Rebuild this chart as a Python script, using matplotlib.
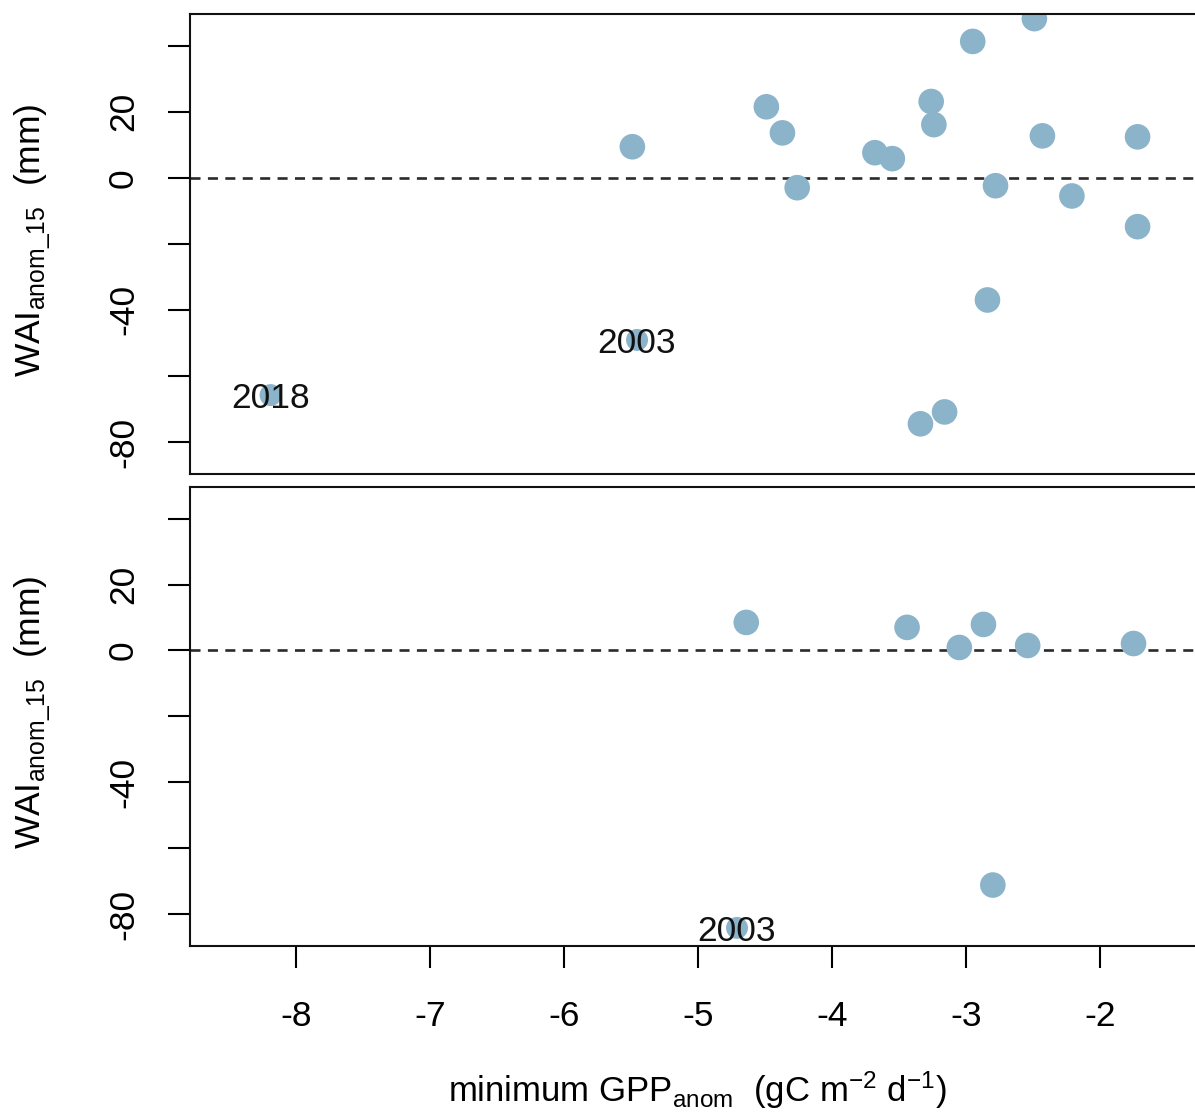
import numpy as np
import matplotlib
matplotlib.use("Agg")
from matplotlib import pyplot as plt

plt.rcParams["font.family"] = ["Liberation Sans", "DejaVu Sans"]
plt.rcParams["mathtext.fontset"] = "custom"
plt.rcParams["mathtext.rm"] = "Liberation Sans"
plt.rcParams["mathtext.it"] = "Liberation Sans"
plt.rcParams["mathtext.default"] = "regular"

# top panel (all sites)
top_x = [-5.49, -4.49, -4.37, -4.26, -3.68, -3.55, -3.26, -3.24, -3.20, -3.34,
         -3.16, -2.95, -2.49, -2.78, -2.84, -2.43, -2.21, -1.72, -1.72]
top_y = [9.4, 21.5, 13.6, -3.0, 7.6, 5.8, 23.1, 16.1, 53.3, -74.5,
         -70.9, 41.3, 48.2, -2.4, -37.0, 12.7, -5.5, 12.4, -14.8]
top_lab_x = [-8.19, -5.455]
top_lab_y = [-65.8, -49.1]
top_lab = ["2018", "2003"]

# bottom panel
bot_x = [-4.64, -3.44, -3.05, -2.87, -2.54, -1.75, -2.80]
bot_y = [8.5, 7.0, 0.9, 7.9, 1.5, 2.1, -71.2]
bot_lab_x = [-4.709]
bot_lab_y = [-84.2]
bot_lab = ["2003"]

yticks = [-80, -60, -40, -20, 0, 20, 40]
yticklabels = ["-80", "", "-40", "", "0", "20", ""]
xticks = [-8, -7, -6, -5, -4, -3, -2]

col = "#8bb3ca"

W, H = 1195, 1115
fig = plt.figure(figsize=(W / 100, H / 100), dpi=100)

left = 190 / W
width = 1010 / W
ax1 = fig.add_axes([left, 1 - 474 / H, width, 460 / H])
ax2 = fig.add_axes([left, 1 - 946 / H, width, 459 / H])


def style(ax, xs, ys, lx, ly, labs, bottom):
    ax.axhline(0, color="#2a2a2a", lw=1.9, dashes=(3.8, 2.8), zorder=1)
    ax.scatter(xs, ys, s=340, color=col, edgecolors="none", zorder=2)
    ax.scatter(lx, ly, s=250, color=col, edgecolors="none", zorder=2)
    for x, y, t in zip(lx, ly, labs):
        ax.text(x, y - 1, t, ha="center", va="center", fontsize=25.5, color="#111111", zorder=3)
    ax.set_xlim(-8.791, -1.254)
    ax.set_ylim(-89.7, 49.6)
    ax.set_yticks(yticks)
    ax.set_yticklabels(yticklabels, rotation=90, va="center")
    ax.tick_params(axis="y", length=16, width=1.5, pad=20, labelsize=25.5)
    if bottom:
        ax.set_xticks(xticks)
        ax.set_xticklabels([str(v) for v in xticks])
        ax.tick_params(axis="x", length=16, width=1.5, pad=23, labelsize=25.5)
    else:
        ax.set_xticks(xticks)
        ax.set_xticklabels([])
        ax.tick_params(axis="x", length=0)
    for sp in ax.spines.values():
        sp.set_linewidth(1.5)
        sp.set_color("#111111")


style(ax1, top_x, top_y, top_lab_x, top_lab_y, top_lab, False)
style(ax2, bot_x, bot_y, bot_lab_x, bot_lab_y, bot_lab, True)

ylab = "WAI$_{anom\\_15}$  (mm)"
fig.text(33 / W, 1 - 240 / H, ylab, rotation=90, ha="center", va="center", fontsize=25.5)
fig.text(33 / W, 1 - 712 / H, ylab, rotation=90, ha="center", va="center", fontsize=25.5)
fig.text(697 / W, 1 - 1090 / H, "minimum GPP$_{anom}$  (gC m$^{-2}$ d$^{-1}$)",
         ha="center", va="center", fontsize=25)

fig.savefig("out.png", dpi=100)
